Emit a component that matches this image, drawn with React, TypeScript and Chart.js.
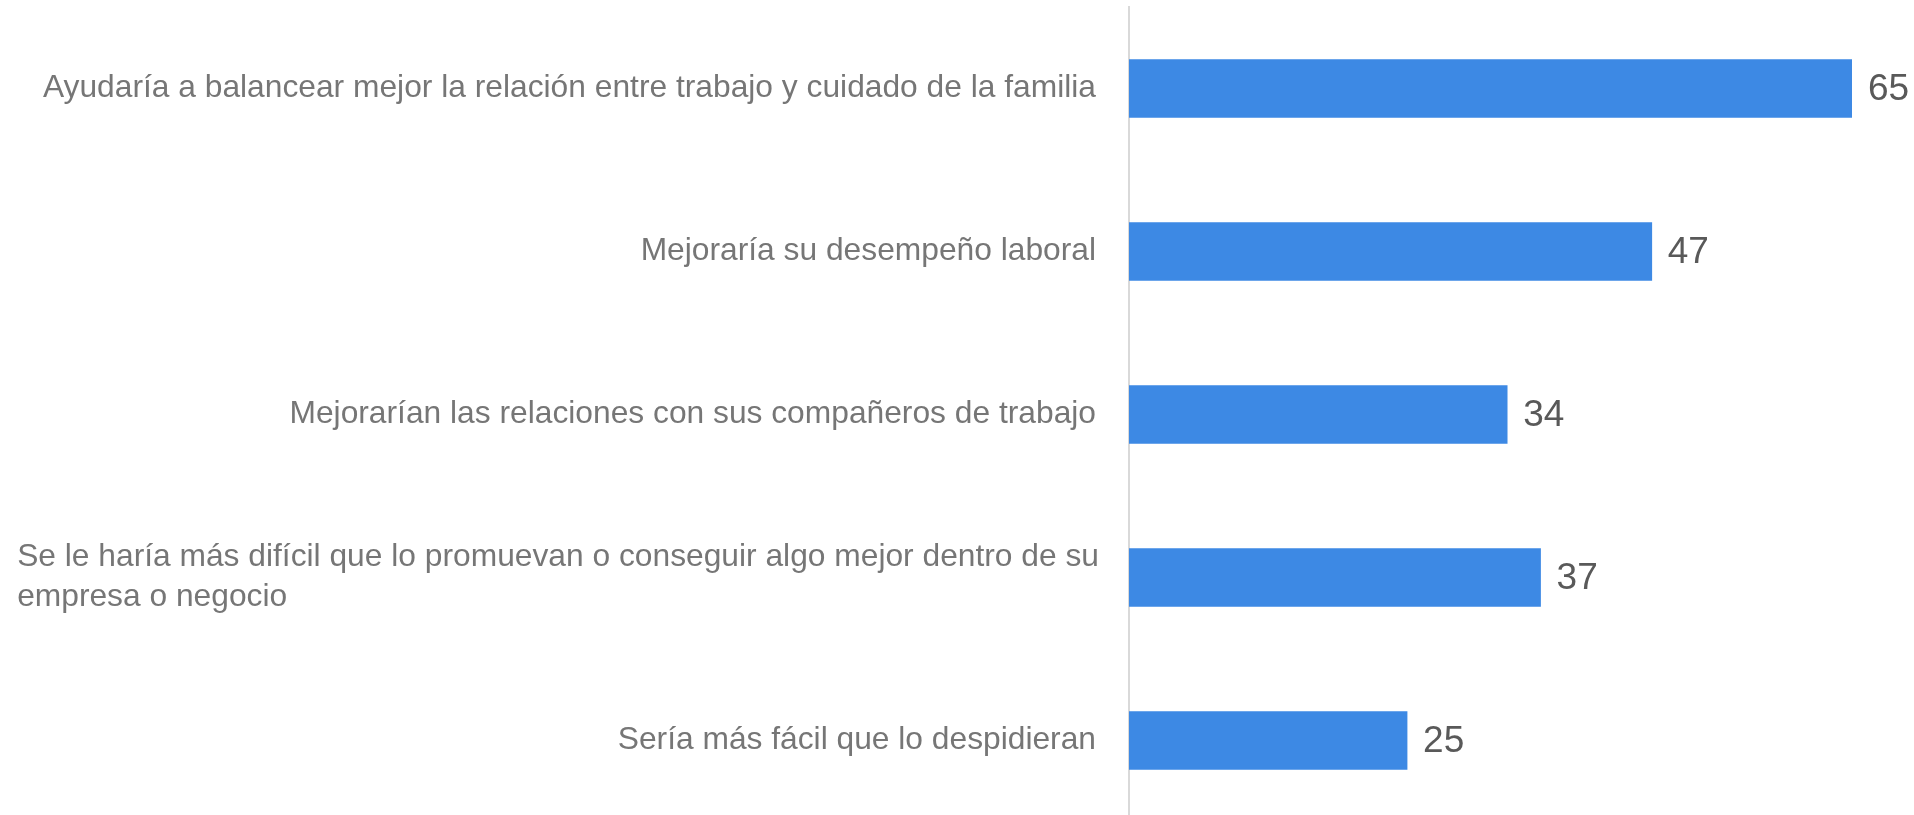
import React, { useEffect, useRef } from "react";
import { Chart, registerables } from "chart.js";

Chart.register(...registerables);

const categories: string[][] = [
  ["Ayudaría a balancear mejor la relación entre trabajo y cuidado de la familia"],
  ["Mejoraría su desempeño laboral"],
  ["Mejorarían las relaciones con sus compañeros de trabajo"],
  ["Se le haría más difícil que lo promuevan o conseguir algo mejor dentro de su", "empresa o negocio"],
  ["Sería más fácil que lo despidieran"],
];
const values: number[] = [65, 47, 34, 37, 25];
const xMax = 65;

const LABEL_FONT = '31.75px "Liberation Sans", Arial, sans-serif';
const VALUE_FONT = '37px "Liberation Sans", Arial, sans-serif';

const labelPlugin = {
  id: "customLabels",
  afterDatasetsDraw(chart: any) {
    const ctx = chart.ctx;
    const yScale = chart.scales.y;
    const meta = chart.getDatasetMeta(0);
    ctx.save();
    ctx.font = LABEL_FONT;
    ctx.fillStyle = "#767676";
    ctx.textBaseline = "middle";
    const rightX = chart.chartArea.left - 33;
    categories.forEach((lines, i) => {
      const cy = yScale.getPixelForValue(i);
      const lh = 40;
      const widths = lines.map((l) => ctx.measureText(l).width);
      const maxW = Math.max(...widths);
      lines.forEach((line, j) => {
        const y = cy + (j - (lines.length - 1) / 2) * lh;
        if (lines.length > 1) {
          ctx.textAlign = "left";
          ctx.fillText(line, rightX + 3 - maxW, y);
        } else {
          ctx.textAlign = "right";
          ctx.fillText(line, rightX, y);
        }
      });
    });
    ctx.font = VALUE_FONT;
    ctx.fillStyle = "#595959";
    ctx.textAlign = "left";
    meta.data.forEach((bar: any, i: number) => {
      ctx.fillText(String(values[i]), bar.x + 16, bar.y + 1);
    });
    ctx.restore();
  },
};

export default function App() {
  const ref = useRef<HTMLCanvasElement | null>(null);
  useEffect(() => {
    if (!ref.current) return;
    const chart = new Chart(ref.current, {
      type: "bar",
      data: {
        labels: categories.map((c) => c.join(" ")),
        datasets: [
          {
            data: values,
            backgroundColor: "#3D89E4",
            barThickness: 58,
          },
        ],
      },
      options: {
        indexAxis: "y",
        animation: false,
        responsive: true,
        maintainAspectRatio: false,
        layout: { padding: { top: 7, right: 62, left: 0, bottom: 0 } },
        plugins: { legend: { display: false }, tooltip: { enabled: false } },
        scales: {
          x: { display: false, min: 0, max: xMax },
          y: {
            grid: { display: false },
            border: { display: true, color: "#D9D9D9", width: 2 },
            ticks: { display: false },
            afterFit(scale: any) {
              scale.width = 1129;
            },
          },
        },
      },
      plugins: [labelPlugin],
    });
    return () => chart.destroy();
  }, []);
  return (
    <div style={{ position: "fixed", inset: 0, overflow: "hidden", background: "#fff" }}>
      <div style={{ position: "relative", width: 1914, height: 822 }}>
        <canvas ref={ref} />
      </div>
    </div>
  );
}
